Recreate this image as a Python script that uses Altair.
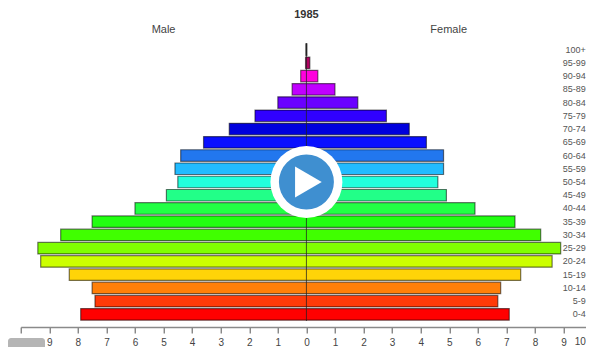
import altair as alt
import pandas as pd

ages = ["0-4","5-9","10-14","15-19","20-24","25-29","30-34","35-39","40-44","45-49","50-54",
        "55-59","60-64","65-69","70-74","75-79","80-84","85-89","90-94","95-99","100+"]
male = [7.9,7.4,7.5,8.3,9.3,9.4,8.6,7.5,6.0,4.9,4.5,4.6,4.4,3.6,2.7,1.8,1.0,0.5,0.2,0.03,0.02]
female = [7.1,6.7,6.8,7.5,8.6,8.9,8.2,7.3,5.9,4.9,4.6,4.8,4.8,4.2,3.6,2.8,1.8,1.0,0.4,0.12,0.02]
colors = ["#ff0000","#ff3a08","#ff7f08","#ffd408","#ccff00","#80ff00","#40ff00","#22ff11","#22ff44",
          "#22ff88","#22ffdd","#22bbff","#2277ee","#0a10ff","#0000dd","#3000ff","#6a00ff","#c000ff",
          "#ff00dd","#b00060","#555555"]
ticks = list(range(-10, 10))
order = ages[::-1]
df = pd.DataFrame({"age": ages, "lo": [-m for m in male], "hi": female, "color": colors})

sx = alt.Scale(domain=[-10, 9.786], nice=False)
ax = alt.Axis(values=ticks, labelExpr="abs(datum.value)", grid=False, offset=6, labelOverlap=False,
              domainColor="#8a8a8a", tickColor="#555555", tickSize=6, domainWidth=1.5,
              labelColor="#444444", labelFont="Liberation Sans", labelFontSize=10, labelPadding=4)
def X(f):
    return alt.X(f, scale=sx, axis=ax, title=None)
y = alt.Y("age:N", sort=order, scale=alt.Scale(domain=order, paddingInner=0.13, paddingOuter=0.065), axis=None)

bars = alt.Chart(df).mark_bar(strokeWidth=1.2, stroke="#00000088").encode(
    x=X("lo:Q"), x2="hi:Q", y=y, color=alt.Color("color:N", scale=None))
zero = alt.Chart(pd.DataFrame({"v": [0]})).mark_rule(color="#222222", opacity=0.75, strokeWidth=1).encode(x=X("v:Q"))
age_lab = alt.Chart(pd.DataFrame({"age": ages, "v": [9.78]*21})).mark_text(
    align="right", font="Liberation Sans", fontSize=9, color="#555555").encode(x=X("v:Q"), y=y, text="age:N")
head = alt.Chart(pd.DataFrame({"v": [-5.0, 4.98], "t": ["Male", "Female"]})).mark_text(
    font="Liberation Sans", fontSize=11, color="#444444").encode(x=X("v:Q"), y=alt.value(-13), text="t:N")
yr = alt.Chart(pd.DataFrame({"v": [0], "t": ["1985"]})).mark_text(
    font="Liberation Sans", fontSize=11, fontWeight="bold", color="#333333").encode(x=X("v:Q"), y=alt.value(-28), text="t:N")
last = alt.Chart(pd.DataFrame({"v": [9.78], "t": ["10"]})).mark_text(
    align="right", baseline="top", font="Liberation Sans", fontSize=10, color="#444444").encode(
    x=X("v:Q"), y=alt.value(294), text="t:N")

ring = alt.Chart(pd.DataFrame({"v": [0], "age": ["50-54"]}))
ring_o = ring.mark_point(shape="circle", filled=True, color="white", opacity=1, size=5184).encode(x=X("v:Q"), y=y)
ring_i = ring.mark_point(shape="circle", filled=True, color="#3f8fd0", opacity=1, size=3025).encode(x=X("v:Q"), y=y)
tri = alt.Chart(pd.DataFrame({"v": [0.07], "age": ["50-54"]})).mark_point(
    shape="triangle-right", filled=True, color="white", opacity=1, size=950).encode(x=X("v:Q"), y=y)
ctrl = alt.Chart(pd.DataFrame({"a": [0]})).mark_rect(color="#b5b5b5", cornerRadius=3).encode(
    x=alt.value(-12.7), x2=alt.value(24.3), y=alt.value(295), y2=alt.value(310))

chart = alt.layer(bars, zero, age_lab, head, yr, last, ring_o, ring_i, tri, ctrl).properties(
    width=565.3, height=278,
    autosize=alt.AutoSizeParams(type="none"),
    padding={"left": 12.7, "top": 35, "right": 0, "bottom": 26},
).configure_view(stroke=None)

chart.save("out.html", embed_options={"renderer": "svg", "actions": False})
